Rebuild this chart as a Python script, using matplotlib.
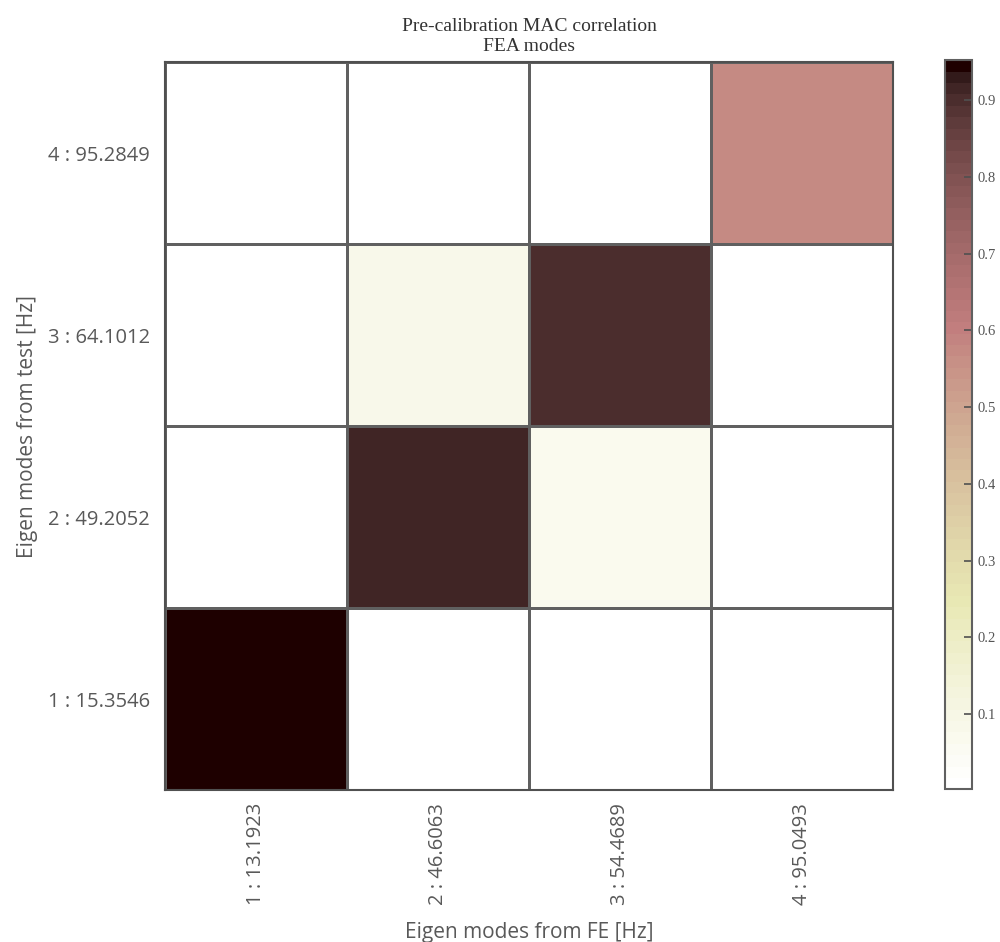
import numpy as np
import matplotlib.pyplot as plt
from matplotlib.colors import Normalize

# MAC values: rows = test modes (1..4, bottom to top), cols = FE modes (1..4)
fe_labels = ['1 : 13.1923', '2 : 46.6063', '3 : 54.4689', '4 : 95.0493']
test_labels = ['1 : 15.3546', '2 : 49.2052', '3 : 64.1012', '4 : 95.2849']
mac_test1 = [0.952, 0.005, 0.003, 0.002]
mac_test2 = [0.004, 0.914, 0.075, 0.006]
mac_test3 = [0.003, 0.080, 0.902, 0.004]
mac_test4 = [0.002, 0.005, 0.003, 0.580]
cbar_ticks = [0.1, 0.2, 0.3, 0.4, 0.5, 0.6, 0.7, 0.8, 0.9]

mac = np.array([mac_test1, mac_test2, mac_test3, mac_test4])

fig = plt.figure(figsize=(10, 9.42), dpi=100)
ax = fig.add_axes([0.165, 0.161, 0.728, 0.773])
cax = fig.add_axes([0.945, 0.162, 0.027, 0.774])

cmap = plt.get_cmap('pink_r', 64)
norm = Normalize(vmin=mac.min(), vmax=mac.max())
mesh = ax.pcolormesh(np.arange(1, 6) - 0.5, np.arange(1, 6) - 0.5, mac,
                     cmap=cmap, norm=norm, edgecolors='#606060', linewidth=0.8)
ax.set_xlim(0.5, 4.5)
ax.set_ylim(0.5, 4.5)

label_font = {'family': 'Open Sans', 'color': '#595959'}
ax.set_xticks(range(1, 5))
ax.set_xticklabels(fe_labels, rotation=90, fontsize=14.5, **label_font)
ax.set_yticks(range(1, 5))
ax.set_yticklabels(test_labels, fontsize=14.5, **label_font)
ax.tick_params(axis='x', length=0, pad=9)
ax.tick_params(axis='y', length=0, pad=11)
ax.set_xlabel('Eigen modes from FE [Hz]', fontsize=15, labelpad=12, **label_font)
ax.set_ylabel('Eigen modes from test [Hz]', fontsize=15, labelpad=7, **label_font)
for s in ax.spines.values():
    s.set_color('#505050')
    s.set_linewidth(1.5)

ax.set_title('Pre-calibration MAC correlation\nFEA modes', fontsize=14,
             family='Liberation Serif', color='#333333', pad=8, linespacing=1.2)

cb = fig.colorbar(mesh, cax=cax)
cb.set_ticks(cbar_ticks)
cb.ax.tick_params(direction='in', length=6, width=1.2, color='#505050',
                  labelsize=10.5, labelcolor='#555555', pad=4)
for t in cb.ax.get_yticklabels():
    t.set_family('Liberation Serif')
cb.outline.set_edgecolor('#606060')
cb.outline.set_linewidth(1.5)

plt.savefig('out.png', dpi=100)
